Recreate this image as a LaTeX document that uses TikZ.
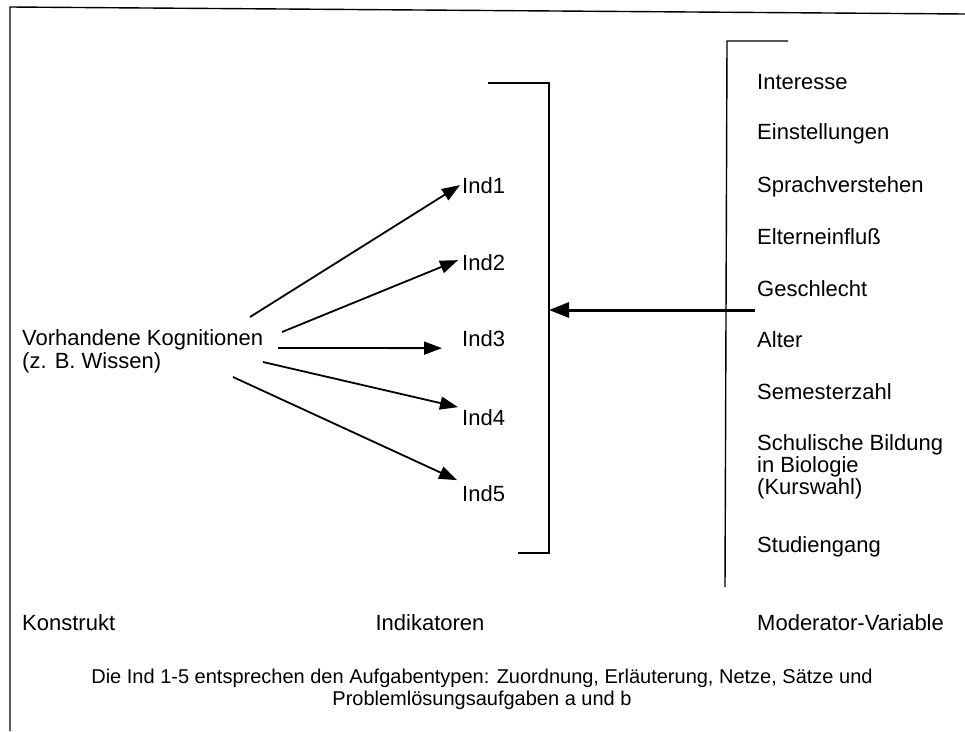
\documentclass[tikz,border=0pt]{standalone}
\usepackage{fontspec}
\setmainfont{Liberation Sans}
\usetikzlibrary{arrows.meta}
\begin{document}
\begin{tikzpicture}[x=1pt,y=-1pt,
  lbl/.style={font=\fontsize{22}{23}\selectfont, inner sep=0pt, anchor=base west, align=left},
  note/.style={font=\fontsize{20}{22}\selectfont, inner sep=0pt, align=center},
  rule/.style={line width=1.4pt},
  link/.style={line width=1.8pt, -{Triangle[length=18pt,width=13pt]}},
  bigarrow/.style={line width=3pt, -{Triangle[length=20pt,width=15pt]}}]
\useasboundingbox (0,0) rectangle (965,731);

% frame (top and left edges only)
\draw[rule] (10,731) -- (10,7) -- (965,14);

% construct (base anchor of a two-line node sits on its last line)
\node[lbl] (konstrukt) at (22,368) {Vorhandene Kognitionen\\(z. B. Wissen)};

% indicators
\node[lbl] (ind1) at (462,193) {Ind1};
\node[lbl] (ind2) at (462,270) {Ind2};
\node[lbl] (ind3) at (462,346) {Ind3};
\node[lbl] (ind4) at (462,425) {Ind4};
\node[lbl] (ind5) at (462,501) {Ind5};

% start points of the indicator arrows
\coordinate (s1) at (250,317);
\coordinate (s2) at (282,332);
\coordinate (s3) at (278,348);
\coordinate (s4) at (263,362);
\coordinate (s5) at (233,377);

\draw[link] (s1) -- ([xshift=-2pt]ind1.west);
\draw[link] (s2) -- ([xshift=-4pt,yshift=2pt]ind2.west);
\draw[link] (s3) -- ([xshift=-20pt,yshift=-10pt]ind3.west);
\draw[link] (s4) -- ([xshift=-4pt,yshift=10pt]ind4.west);
\draw[link] (s5) -- ([xshift=-5pt,yshift=13pt]ind5.west);

% bracket around the indicators
\coordinate (bi1) at (488,83);
\coordinate (bi2) at (549,83);
\coordinate (bi3) at (549,553);
\coordinate (bi4) at (518,553);
\draw[rule] (bi1) -- (bi2) -- (bi3) -- (bi4);

% bracket of the moderator variables
\coordinate (bm1) at (788,41);
\coordinate (bm2) at (727,41);
\coordinate (bm3) at (725,587);
\draw[rule] (bm1) -- (bm2) -- (bm3);

% moderator variables
\node[lbl] (m1) at (757,89) {Interesse};
\node[lbl] (m2) at (757,139) {Einstellungen};
\node[lbl] (m3) at (757,192) {Sprachverstehen};
\node[lbl] (m4) at (757,244) {Elterneinfluß};
\node[lbl] (m5) at (757,296) {Geschlecht};
\node[lbl] (m6) at (757,347) {Alter};
\node[lbl] (m7) at (757,399) {Semesterzahl};
\node[lbl, font=\fontsize{22}{22}\selectfont] (m8) at (757,494) {Schulische Bildung\\in Biologie\\(Kurswahl)};
\node[lbl] (m9) at (757,552) {Studiengang};

% influence of the moderators on the indicators
\coordinate (mod) at (755,310);
\draw[bigarrow] (mod) -- (bi2 |- mod);

% column captions
\node[lbl] (c1) at (22,630) {Konstrukt};
\node[lbl, anchor=base] (c2) at (430,630) {Indikatoren};
\node[lbl] (c3) at (757,630) {Moderator-Variable};

% footnote
\node[note, anchor=base] (fn) at (482,705) {Die Ind 1-5 entsprechen den Aufgabentypen: Zuordnung, Erläuterung, Netze, Sätze und\\Problemlösungsaufgaben a und b};
\end{tikzpicture}
\end{document}
